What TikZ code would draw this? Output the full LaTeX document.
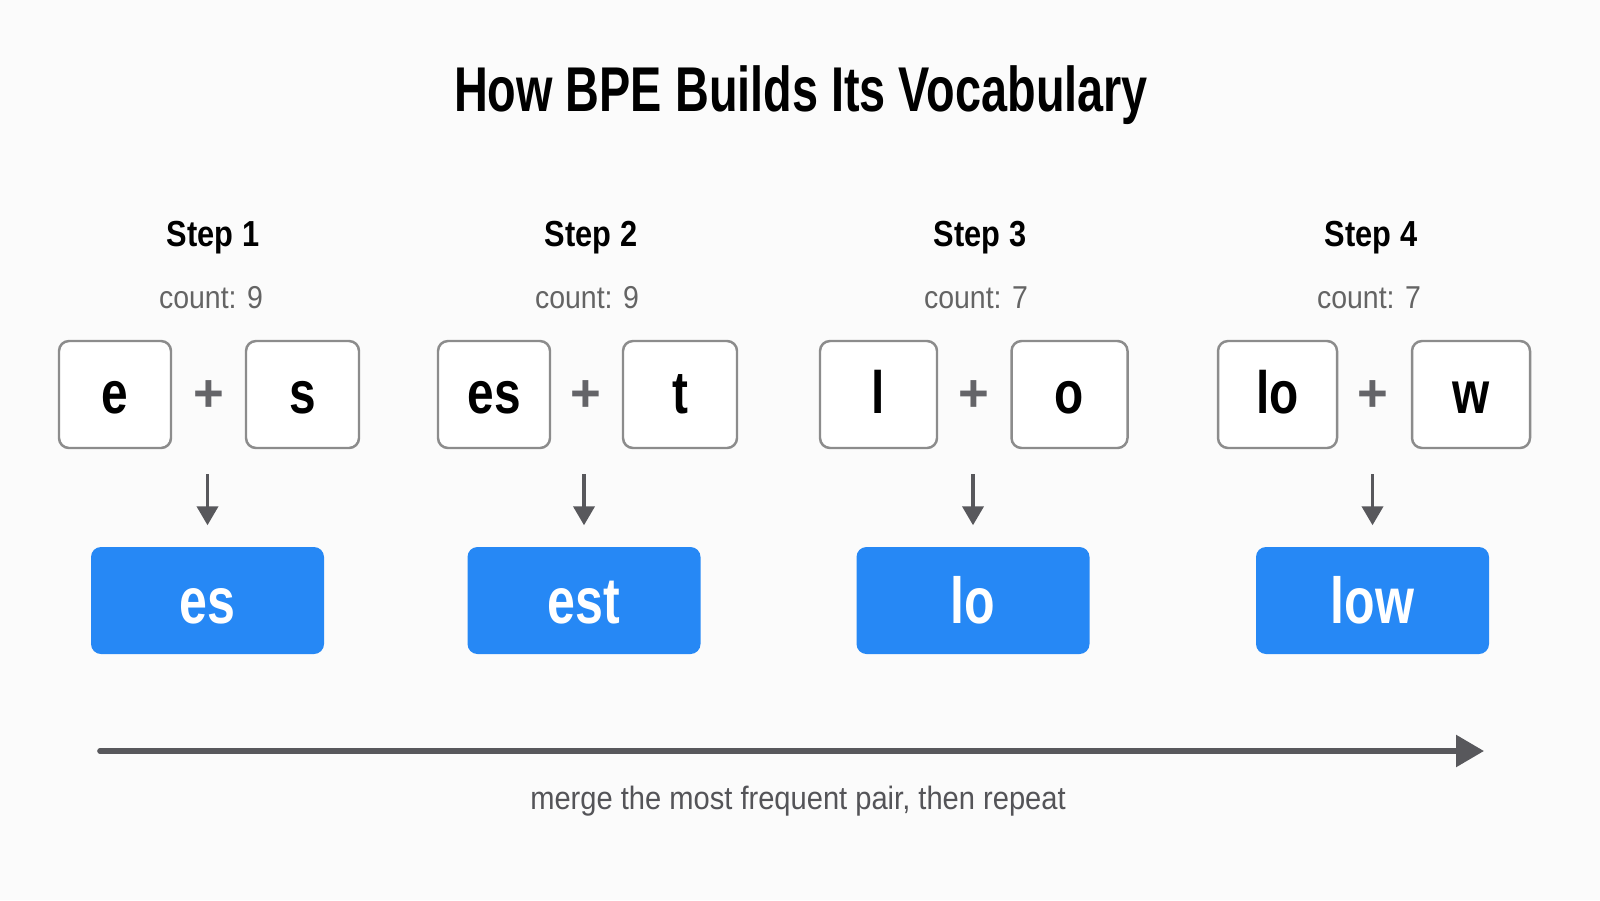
\documentclass[tikz,border=0pt]{standalone}
\usepackage{fontspec}
\usepackage{tikz}
\usetikzlibrary{arrows.meta}

\setmainfont{Liberation Sans}
\newfontfamily\titlefont[FakeStretch=0.74]{Liberation Sans}
\newfontfamily\stepfont[FakeStretch=0.85]{Liberation Sans}
\newfontfamily\tokfont[FakeStretch=0.8]{Liberation Sans}
\newfontfamily\mergefont[FakeStretch=0.77]{Liberation Sans}
\newfontfamily\notefont[FakeStretch=0.9]{Liberation Sans}

\definecolor{bgwhite}{RGB}{251,251,251}
\definecolor{boxgray}{RGB}{140,140,140}
\definecolor{plusgray}{RGB}{100,100,104}
\definecolor{countgray}{RGB}{100,100,100}
\definecolor{captiongray}{RGB}{84,84,88}
\definecolor{arrowgray}{RGB}{88,88,92}
\definecolor{mergeblue}{RGB}{38,136,245}

\begin{document}
\begin{tikzpicture}[
	token/.style={draw=boxgray, line width=0.7pt, rounded corners=0.1cm, fill=white,
		minimum height=1.07cm, inner sep=0pt, text height=0.37cm, text depth=0cm,
		font=\tokfont\bfseries\fontsize{17pt}{19pt}\selectfont},
	merged/.style={fill=mergeblue, rounded corners=0.1cm, text=white,
		minimum width=2.33cm, minimum height=1.07cm, inner sep=0pt,
		text height=0.45cm, text depth=0cm,
		font=\mergefont\bfseries\fontsize{18.5pt}{20pt}\selectfont},
	plus/.style={text=plusgray, inner sep=0pt, font=\bfseries\fontsize{15pt}{17pt}\selectfont},
	steplabel/.style={anchor=base, font=\stepfont\bfseries\fontsize{10.3pt}{12pt}\selectfont},
	countlabel/.style={anchor=base, text=countgray, font=\notefont\fontsize{9pt}{11pt}\selectfont},
	down/.style={draw=arrowgray, line width=1.1pt, -{Triangle[width=0.21cm,length=0.19cm]},
		shorten <=0.25cm, shorten >=0.21cm},
	flow/.style={draw=arrowgray, line width=1.6pt, line cap=round,
		-{Triangle[width=0.31cm,length=0.28cm]}}
	]

	\fill[bgwhite] (0,0) rectangle (16,9);

	\node[anchor=base, font=\titlefont\bfseries\fontsize{18pt}{20pt}\selectfont] (title) at (8.01, 7.88) {How BPE Builds Its Vocabulary};

	% step 1
	\node[steplabel]  (step1)  at (2.13, 6.53) {Step 1};
	\node[countlabel] (count1) at (2.11, 5.92) {count: 9};
	\node[token, minimum width=1.12cm]  (tokA1) at (1.15, 5.055)  {e};
	\node[plus]                         (plus1) at (2.09, 5.04)   {+};
	\node[token, minimum width=1.13cm]  (tokB1) at (3.025, 5.055) {s};
	\node[merged]                       (merged1) at (2.075, 2.995) {es};

	% step 2
	\node[steplabel]  (step2)  at (5.91, 6.53) {Step 2};
	\node[countlabel] (count2) at (5.87, 5.92) {count: 9};
	\node[token, minimum width=1.12cm]  (tokA2) at (4.94, 5.055) {es};
	\node[plus]                         (plus2) at (5.86, 5.04)  {+};
	\node[token, minimum width=1.14cm]  (tokB2) at (6.80, 5.055) {t};
	\node[merged]                       (merged2) at (5.84, 2.995) {est};

	% step 3
	\node[steplabel]  (step3)  at (9.80, 6.53) {Step 3};
	\node[countlabel] (count3) at (9.76, 5.92) {count: 7};
	\node[token, minimum width=1.17cm]  (tokA3) at (8.785, 5.055)  {l};
	\node[plus]                         (plus3) at (9.74, 5.04)    {+};
	\node[token, minimum width=1.16cm]  (tokB3) at (10.695, 5.055) {o};
	\node[merged]                       (merged3) at (9.73, 2.995) {lo};

	% step 4
	\node[steplabel]  (step4)  at (13.71, 6.53) {Step 4};
	\node[countlabel] (count4) at (13.69, 5.92) {count: 7};
	\node[token, minimum width=1.19cm]  (tokA4) at (12.775, 5.055) {lo};
	\node[plus]                         (plus4) at (13.73, 5.04)   {+};
	\node[token, minimum width=1.18cm]  (tokB4) at (14.71, 5.055)  {w};
	\node[merged]                       (merged4) at (13.725, 2.995) {low};

	\draw[down] (merged1.north |- tokA1.south) -- (merged1.north);
	\draw[down] (merged2.north |- tokA2.south) -- (merged2.north);
	\draw[down] (merged3.north |- tokA3.south) -- (merged3.north);
	\draw[down] (merged4.north |- tokA4.south) -- (merged4.north);

	\coordinate (flowstart) at (1.00, 1.49);
	\coordinate (flowend)   at (14.84, 1.49);
	\draw[flow] (flowstart) -- (flowend);

	\node[anchor=base, text=captiongray, font=\notefont\fontsize{9.2pt}{11pt}\selectfont] (caption) at (7.98, 0.91) {merge the most frequent pair, then repeat};

\end{tikzpicture}
\end{document}
